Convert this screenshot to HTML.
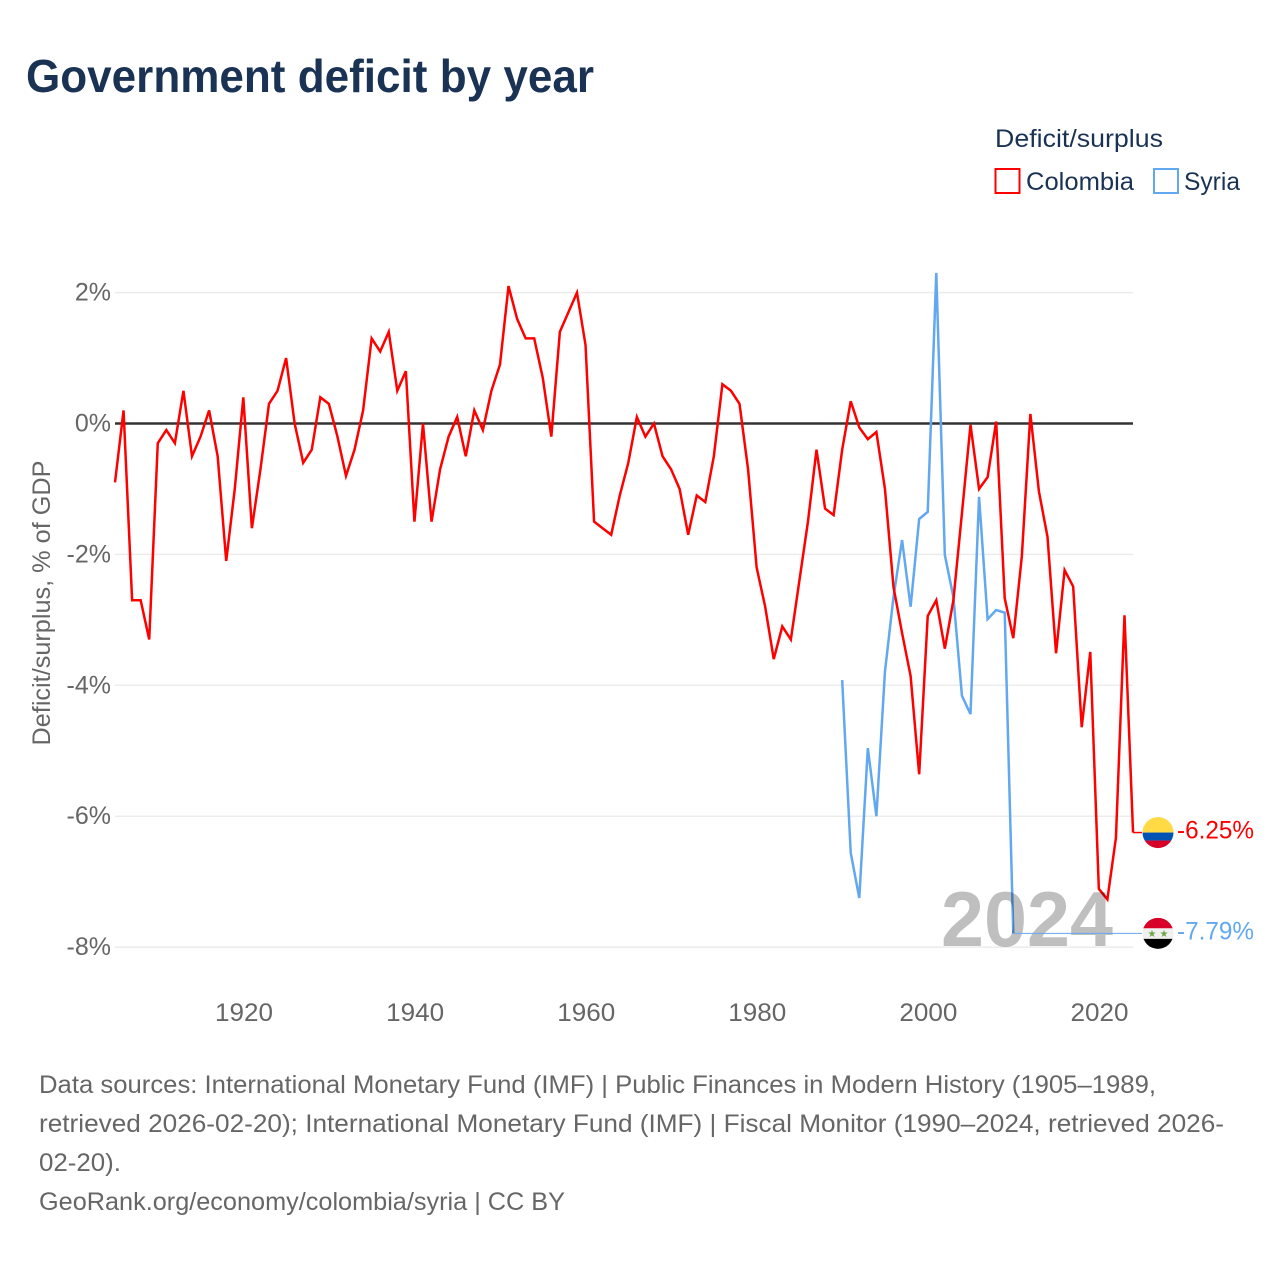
<!DOCTYPE html>
<html lang="en">
<head>
<meta charset="utf-8">
<title>Government deficit by year</title>
<style>
html,body{margin:0;padding:0;background:#fff;width:1280px;height:1280px;overflow:hidden}
svg{display:block;font-family:"Liberation Sans",Arial,sans-serif}
</style>
</head>
<body>
<svg id="chart" xmlns="http://www.w3.org/2000/svg" width="1280" height="1280" viewBox="0 0 1280 1280">
  <text x="26" y="92" font-size="46" font-weight="700" fill="#1a3354" textLength="568" lengthAdjust="spacingAndGlyphs">Government deficit by year</text>

  <g>
    <text x="995" y="147" font-size="25" fill="#1a3354" textLength="168" lengthAdjust="spacingAndGlyphs">Deficit/surplus</text>
    <g>
      <rect x="995.5" y="169" width="24" height="24" fill="none" stroke="#ff0000" stroke-width="2"/>
      <text x="1026" y="190" font-size="25" fill="#1a3354" textLength="108" lengthAdjust="spacingAndGlyphs">Colombia</text>
    </g>
    <g>
      <rect x="1154" y="169" width="24" height="24" fill="none" stroke="#62a8f0" stroke-width="2"/>
      <text x="1184" y="190" font-size="25" fill="#1a3354" textLength="56" lengthAdjust="spacingAndGlyphs">Syria</text>
    </g>
  </g>

  <text transform="translate(50,603) rotate(-90)" text-anchor="middle" font-size="25" fill="#666666" textLength="285" lengthAdjust="spacingAndGlyphs">Deficit/surplus, % of GDP</text>

  <g id="grid"></g>
  <g id="yticks"></g>
  <g id="xticks"></g>
  <g id="series"></g>

  <text x="1113" y="946" text-anchor="end" font-size="78" font-weight="700" fill="#000000" fill-opacity="0.25" textLength="172" lengthAdjust="spacingAndGlyphs">2024</text>

  <g id="connectors"></g>

  <defs>
    <clipPath id="flag-clip" clipPathUnits="userSpaceOnUse"><circle cx="0" cy="0" r="15.5"/></clipPath>
  </defs>
  <g id="flag-colombia">
    <g clip-path="url(#flag-clip)">
      <rect x="-16" y="-16" width="32" height="16" fill="#ffda44"/>
      <rect x="-16" y="0" width="32" height="8" fill="#0052b4"/>
      <rect x="-16" y="8" width="32" height="8" fill="#d80027"/>
    </g>
  </g>
  <g id="flag-syria">
    <g clip-path="url(#flag-clip)">
      <rect x="-16" y="-16" width="32" height="11" fill="#d80027"/>
      <rect x="-16" y="-5" width="32" height="10.5" fill="#f0f0f0"/>
      <rect x="-16" y="5.5" width="32" height="11" fill="#000000"/>
      <text x="-6" y="3.5" text-anchor="middle" font-size="10" fill="#6da544">★</text>
      <text x="6" y="3.5" text-anchor="middle" font-size="10" fill="#6da544">★</text>
    </g>
  </g>
  <text id="label-colombia" font-size="25" fill="#ff0000"></text>
  <text id="label-syria" font-size="25" fill="#62a8f0"></text>

  <g font-size="25" fill="#666666">
    <text x="39" y="1093" textLength="1117" lengthAdjust="spacingAndGlyphs">Data sources: International Monetary Fund (IMF) | Public Finances in Modern History (1905–1989,</text>
    <text x="39" y="1132" textLength="1185" lengthAdjust="spacingAndGlyphs">retrieved 2026-02-20); International Monetary Fund (IMF) | Fiscal Monitor (1990–2024, retrieved 2026-</text>
    <text x="39" y="1171" textLength="82" lengthAdjust="spacingAndGlyphs">02-20).</text>
    <text x="39" y="1210" textLength="526" lengthAdjust="spacingAndGlyphs">GeoRank.org/economy/colombia/syria | CC BY</text>
  </g>
</svg>
<script>
const colombiaStartYear = 1905;
const colombiaValues = [
  -0.9, 0.2, -2.7, -2.7, -3.3, -0.3, -0.1, -0.3, 0.5, -0.5,
  -0.2, 0.2, -0.5, -2.1, -1.0, 0.4, -1.6, -0.7, 0.3, 0.5,
  1.0, 0, -0.6, -0.4, 0.4, 0.3, -0.2, -0.8, -0.4, 0.2,
  1.3, 1.1, 1.4, 0.5, 0.8, -1.5, 0, -1.5, -0.7, -0.2,
  0.1, -0.5, 0.2, -0.1, 0.5, 0.9, 2.1, 1.6, 1.3, 1.3,
  0.7, -0.2, 1.4, 1.7, 2.0, 1.2, -1.5, -1.6, -1.7, -1.1,
  -0.6, 0.1, -0.2, 0, -0.5, -0.7, -1.0, -1.7, -1.1, -1.2,
  -0.5, 0.6, 0.5, 0.3, -0.7, -2.2, -2.8, -3.6, -3.1, -3.3,
  -2.4, -1.5, -0.4, -1.3, -1.4, -0.4, 0.34, -0.06, -0.24, -0.13,
  -1.0, -2.5, -3.2, -3.86, -5.36, -2.94, -2.7, -3.44, -2.7, -1.37,
  -0.02, -1.0, -0.82, 0.03, -2.67, -3.28, -2.03, 0.145, -1.04, -1.73,
  -3.51, -2.24, -2.49, -4.64, -3.49, -7.11, -7.27, -6.33, -2.93, -6.25
];
const syriaStartYear = 1990;
const syriaValues = [
  -3.92, -6.56, -7.25, -4.96, -6.0, -3.79, -2.65, -1.78, -2.8, -1.46,
  -1.35, 2.3, -2.01, -2.65, -4.16, -4.44, -1.12, -2.99, -2.85, -2.89, -7.79
];
const yTickValues = [2, 0, -2, -4, -6, -8];
const xTickYears = [1920, 1940, 1960, 1980, 2000, 2020];

const NS = 'http://www.w3.org/2000/svg';
const plotLeft = 115, plotRight = 1133, flagX = 1158, labelX = 1177;
function xScale(year) { return 115 + (year - 1905) * 8.555; }
function yScale(v) { return 423.5 - v * 65.45; }
function pointsOf(values, startYear) {
  return values.map(function (v, i) { return xScale(startYear + i).toFixed(2) + ',' + yScale(v).toFixed(2); }).join(' ');
}
function make(tag, attrs, text) {
  const el = document.createElementNS(NS, tag);
  Object.keys(attrs).forEach(function (k) { el.setAttribute(k, attrs[k]); });
  if (text !== undefined) el.textContent = text;
  return el;
}

const grid = document.getElementById('grid');
const yticks = document.getElementById('yticks');
yTickValues.forEach(function (v) {
  const line = make('line', { x1: plotLeft, x2: plotRight, y1: yScale(v), y2: yScale(v), stroke: '#ececec', 'stroke-width': 1.5 });
  
  
  grid.appendChild(line);
  const label = make('text', { x: 111, y: yScale(v) + 8, 'text-anchor': 'end', 'font-size': 25, fill: '#666666' }, v + '%');
  
  
  yticks.appendChild(label);
});

const xticks = document.getElementById('xticks');
xTickYears.forEach(function (yr) {
  const label = make('text', { x: xScale(yr) + 0.7, y: 1021, 'text-anchor': 'middle', 'font-size': 25, fill: '#666666', textLength: 58, lengthAdjust: 'spacingAndGlyphs' }, String(yr));
  
  
  xticks.appendChild(label);
});

const series = document.getElementById('series');
const connectors = document.getElementById('connectors');
const zero = make('line', { x1: plotLeft, x2: plotRight, y1: yScale(0), y2: yScale(0), stroke: '#333333', 'stroke-width': 2.4 });


series.appendChild(zero);

const syriaLastX = xScale(syriaStartYear + syriaValues.length - 1);
const syriaLastY = yScale(syriaValues[syriaValues.length - 1]);
const colombiaLastX = xScale(colombiaStartYear + colombiaValues.length - 1);
const colombiaLastY = yScale(colombiaValues[colombiaValues.length - 1]);

const syriaConnector = make('line', { x1: syriaLastX, x2: flagX - 16, y1: syriaLastY, y2: syriaLastY, stroke: '#62a8f0', 'stroke-width': 1 });


connectors.appendChild(syriaConnector);

const syriaLine = make('polyline', { points: pointsOf(syriaValues, syriaStartYear), fill: 'none', stroke: '#62a8f0', 'stroke-width': 2.5, 'stroke-linejoin': 'miter' });


series.appendChild(syriaLine);

const colombiaConnector = make('line', { x1: colombiaLastX, x2: flagX - 16, y1: colombiaLastY, y2: colombiaLastY, stroke: '#ff0000', 'stroke-width': 1.5 });


connectors.appendChild(colombiaConnector);

const colombiaLine = make('polyline', { points: pointsOf(colombiaValues, colombiaStartYear), fill: 'none', stroke: '#ff0000', 'stroke-width': 2.5, 'stroke-linejoin': 'miter' });


series.appendChild(colombiaLine);

document.getElementById('flag-colombia').setAttribute('transform', 'translate(' + flagX + ',' + colombiaLastY + ')');
document.getElementById('flag-syria').setAttribute('transform', 'translate(' + flagX + ',' + syriaLastY + ')');

const labelC = document.getElementById('label-colombia');
labelC.setAttribute('x', labelX);
labelC.setAttribute('y', colombiaLastY + 6);
labelC.setAttribute('textLength', 77);
labelC.setAttribute('lengthAdjust', 'spacingAndGlyphs');
labelC.textContent = colombiaValues[colombiaValues.length - 1].toFixed(2) + '%';

const labelS = document.getElementById('label-syria');
labelS.setAttribute('x', labelX);
labelS.setAttribute('y', syriaLastY + 6);
labelS.setAttribute('textLength', 77);
labelS.setAttribute('lengthAdjust', 'spacingAndGlyphs');
labelS.textContent = syriaValues[syriaValues.length - 1].toFixed(2) + '%';
</script>
</body>
</html>
